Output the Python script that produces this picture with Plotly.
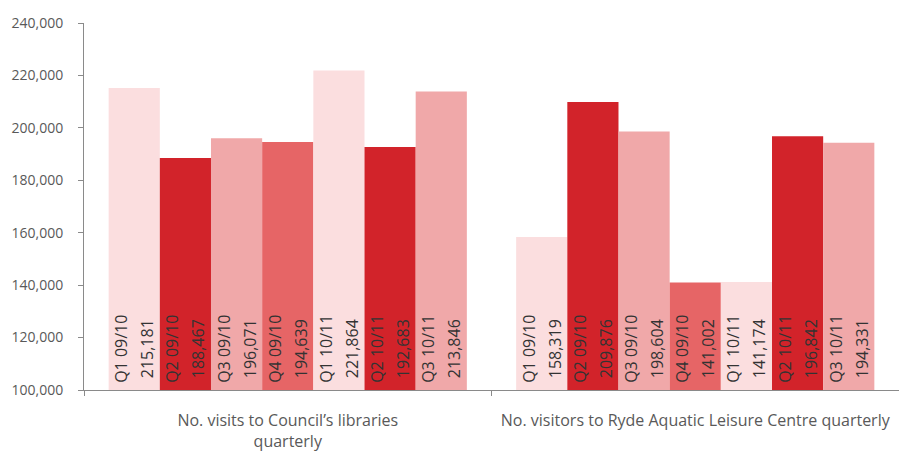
import plotly.graph_objects as go

categories = ["No. visits to Council’s libraries<br>quarterly",
              "No. visitors to Ryde Aquatic Leisure Centre quarterly"]
quarters = ["Q1 09/10", "Q2 09/10", "Q3 09/10", "Q4 09/10", "Q1 10/11", "Q2 10/11", "Q3 10/11"]
libraries = [215181, 188467, 196071, 194639, 221864, 192683, 213846]
aquatic = [158319, 209876, 198604, 141002, 141174, 196842, 194331]
colors = ["#FBDEDF", "#D2232A", "#F0A8A9", "#E66566", "#FBDEDF", "#D2232A", "#F0A8A9"]
axis_floor = 100000

fig = go.Figure()
for q, a, b, c in zip(quarters, libraries, aquatic, colors):
    texts = [f"<span style='font-size:16px'>\u00a0{q}</span><br><span style='font-size:16px'>\u00a0{v:,}</span>"
             for v in (a, b)]
    fig.add_trace(go.Bar(
        x=categories, y=[a - axis_floor, b - axis_floor], base=axis_floor,
        name=q, marker=dict(color=c, line=dict(width=0)),
        text=texts, textposition="inside", insidetextanchor="start", textangle=-90,
        constraintext="none",
        insidetextfont=dict(family="Open Sans", size=20, color="#333333"),
        hoverinfo="skip",
    ))

fig.update_layout(
    barmode="group", bargap=0.121, bargroupgap=0,
    width=899, height=453, showlegend=False,
    margin=dict(l=84, r=0, t=23, b=63, autoexpand=False),
    plot_bgcolor="white", paper_bgcolor="white",
    font=dict(family="Open Sans", color="#595959"),
    xaxis=dict(showline=True, linecolor="#8a8a8a", linewidth=1, automargin=False,
               ticks="outside", tickson="boundaries", ticklen=5, tickcolor="#8a8a8a",
               ticklabelstandoff=16,
               tickfont=dict(size=16, color="#595959"), showgrid=False),
    yaxis=dict(range=[100000, 240000], dtick=20000, tickformat=",", automargin=False,
               showline=True, linecolor="#8a8a8a", linewidth=1,
               ticks="outside", ticklen=5, tickcolor="#8a8a8a",
               ticklabelstandoff=12,
               tickfont=dict(size=14, color="#595959"), showgrid=False, zeroline=False),
)

fig.write_html("out.html", config={"displayModeBar": False},
               post_script="document.body.style.margin='0';")
